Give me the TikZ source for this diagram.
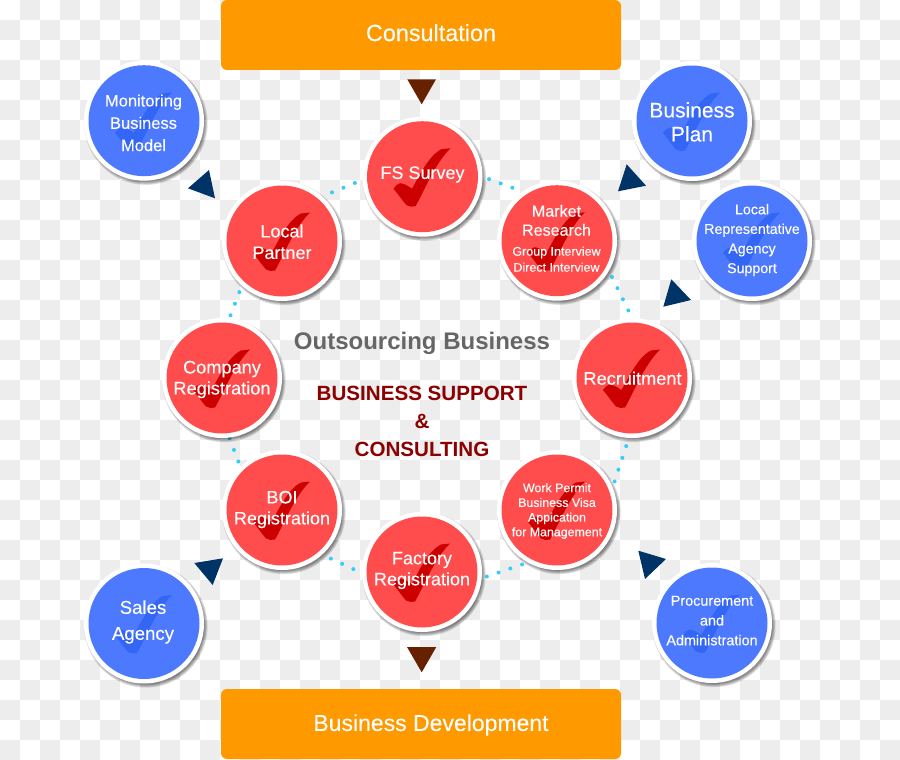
\documentclass[tikz,border=0pt]{standalone}
\usepackage{fontspec}
\setmainfont{Liberation Sans}[UprightFeatures={FakeBold=0.12}]
\pgfdeclarelayer{tiles}
\pgfdeclarelayer{links}
\pgfsetlayers{tiles,links,main}
\definecolor{tile}{HTML}{EDEDED}
\definecolor{redfill}{HTML}{FF4D4D}
\definecolor{redtick}{HTML}{CC0000}
\definecolor{bluefill}{HTML}{4D79FF}
\definecolor{bluetick}{HTML}{3366F5}
\definecolor{boxorange}{HTML}{FF9900}
\definecolor{navytri}{HTML}{003366}
\definecolor{browntri}{HTML}{662200}
\definecolor{dotblue}{HTML}{33CCFF}
\definecolor{headgrey}{HTML}{666666}
\definecolor{headred}{HTML}{8B0000}
\newcommand{\pxfont}[2]{\fontsize{#1}{#2}\selectfont}
\newcommand{\liftmark}{\vphantom{Ag}}
\tikzset{
  disc/.style={circle,fill=white,inner sep=0pt,outer sep=0pt,minimum size=120pt},
  caption/.style={text=white,align=center,inner sep=0pt,outer sep=0pt,shift={(0,2)},
    execute at begin node=\liftmark,execute at end node=\liftmark},
  headline/.style={align=center,inner sep=0pt,outer sep=0pt,shift={(0,2)}},
  bigbox/.style={rectangle,rounded corners=6pt,fill=boxorange,minimum width=400pt,
    minimum height=70pt,inner sep=0pt,outer sep=0pt},
  dotrun/.style={line width=4pt,line cap=round,dotblue,
    dash pattern=on 0pt off 12.4pt,dash phase={12.4pt-#1pt}},
  navyhead/.style={fill=navytri},
  brownhead/.style={fill=browntri}
}
% A round badge: soft shadow, white ring, tinted disc and a faint tick.
% #1 name, #2 x, #3 y, #4 disc colour, #5 tick colour
\newcommand{\badge}[5]{%
  \foreach \rr in {58.5,59.3,60.1,60.9,61.7}{%
    \fill[black,opacity=.11] ([shift={(2,2.5)}]#2,#3) circle[radius=\rr pt];}
  \node[disc] (#1) at (#2,#3) {};
  \fill[#4] (#1.center) circle[radius=55.5pt];
  \begin{scope}[shift={(#1.center)}]
    \fill[#5] (28,-28.5) -- (19,-27.5)
      .. controls (6,-21) and (-3,-1) .. (-10.5,12)
      .. controls (-15,9) and (-19,6.5) .. (-22.5,6.5)
      .. controls (-25,7) and (-27.5,9.5) .. (-29,12)
      .. controls (-24,18) and (-20,24) .. (-16,28.5)
      .. controls (-13,30) and (-10,30.5) .. (-7,29.5)
      .. controls (0,18) and (12,-13) .. (28,-28.5) -- cycle;
  \end{scope}}
\begin{document}
\begin{tikzpicture}[x=1pt,y=-1pt]
\useasboundingbox (0,0) rectangle (900,760);

% Checkered backdrop
\begin{pgfonlayer}{tiles}
  \fill[white] (0,0) rectangle (900,760);
  \foreach \yy in {0,40,...,720}{\foreach \xx in {20,60,...,880}{\fill[tile] (\xx,\yy) rectangle ++(20,20);}}
  \foreach \yy in {20,60,...,740}{\foreach \xx in {0,40,...,880}{\fill[tile] (\xx,\yy) rectangle ++(20,20);}}
\end{pgfonlayer}

% Top and bottom boxes
\node[bigbox] (consult) at (421,35) {};
\node[bigbox] (develop) at (421,724) {};
\node[headline,text=white,font=\pxfont{23.4}{28}] (consulttext) at (431,33) {\liftmark Consultation};
\node[headline,text=white,font=\pxfont{23}{28}] (developtext) at (431,723) {\liftmark Business Development};

% Ring of service badges
\badge{fs}{422.5}{176.7}{redfill}{redtick}
\badge{mr}{557}{240.7}{redfill}{redtick}
\badge{rec}{632}{378}{redfill}{redtick}
\badge{wp}{557}{510}{redfill}{redtick}
\badge{fr}{422}{572}{redfill}{redtick}
\badge{boi}{282}{510}{redfill}{redtick}
\badge{co}{222}{378}{redfill}{redtick}
\badge{lp}{282}{241}{redfill}{redtick}

% Outer badges
\badge{mon}{144}{120.7}{bluefill}{bluetick}
\badge{bp}{692}{121}{bluefill}{bluetick}
\badge{lr}{752}{241}{bluefill}{bluetick}
\badge{sa}{144}{623.5}{bluefill}{bluetick}
\badge{pa}{712}{623}{bluefill}{bluetick}

% Badge captions
\node[caption,font=\pxfont{18}{21}] (fst) at (422.5,172.5) {FS Survey};
\node[caption,font=\pxfont{16.1}{19}] (mrt) at (556.5,238) {Market\\Research\\[1pt]\pxfont{12.5}{16}Group Interview\\[-3pt]\pxfont{12.5}{16}Direct Interview};
\node[caption,font=\pxfont{18.2}{21}] (rect) at (632.5,378) {Recruitment};
\node[caption,font=\pxfont{12.4}{14.7}] (wpt) at (557,509) {Work Permit\\Business Visa\\Appication\\for Management};
\node[caption,font=\pxfont{18}{21}] (frt) at (422,568.5) {Factory\\Registration};
\node[caption,font=\pxfont{18}{21}] (boit) at (282,507.5) {BOI\\Registration};
\node[caption,font=\pxfont{18.2}{21}] (cot) at (222,377.5) {Company\\Registration};
\node[caption,font=\pxfont{18}{21.5}] (lpt) at (282,241.5) {Local\\Partner};
\node[caption,font=\pxfont{16.5}{22.3}] (mont) at (143.5,122.5) {Monitoring\\Business\\Model};
\node[caption,font=\pxfont{21}{24}] (bpt) at (692,122) {Business\\Plan};
\node[caption,font=\pxfont{14.2}{19.6}] (lrt) at (752,238) {Local\\Representative\\Agency\\Support};
\node[caption,font=\pxfont{18.6}{26}] (sat) at (143,620) {Sales\\Agency};
\node[caption,font=\pxfont{14.4}{19.8}] (pat) at (712,620) {Procurement\\and\\Administration};

% Centre headings
\node[headline,text=headgrey,font=\bfseries\pxfont{24}{28}] (outs) at (422,341) {\liftmark Outsourcing Business};
\node[headline,text=headred,font=\bfseries\pxfont{20.6}{24}] (supp) at (422,393) {\liftmark BUSINESS SUPPORT};
\node[headline,text=headred,font=\bfseries\pxfont{20.6}{24}] (amp) at (422,422) {\liftmark \&};
\node[headline,text=headred,font=\bfseries\pxfont{20.6}{24}] (cons) at (422,449) {\liftmark CONSULTING};

% Dotted links around the ring
\begin{pgfonlayer}{links}
  \draw[dotrun=7] (fs.0) -- (mr.125);
  \draw[dotrun=7] (mr.-30) -- (rec.90);
  \draw[dotrun=8.6] (rec.-93) -- (wp.22);
  \draw[dotrun=6.2] (wp.-119) -- (fr.-6);
  \draw[dotrun=9.6] (boi.-48) -- (fr.-179);
  \draw[dotrun=0.8] (co.-83) -- (boi.134);
  \draw[dotrun=7] (lp.-132) -- (co.83);
  \draw[dotrun=10.6] (lp.48) -- (fs.183);
\end{pgfonlayer}

% Triangular pointers
\fill[brownhead] (407.3,79.3) -- (436,79.3) -- (421.7,104.3) -- cycle;
\fill[brownhead] (407,647) -- (436.3,647) -- (421.7,672.3) -- cycle;
\fill[navyhead] (209,170) -- (188,188.3) -- (215,198.3) -- cycle;
\fill[navyhead] (626.7,164.3) -- (618,191.3) -- (646,185.7) -- cycle;
\fill[navyhead] (671.3,279.3) -- (663.3,306.7) -- (691,300) -- cycle;
\fill[navyhead] (638.3,550.7) -- (666,559) -- (645,579) -- cycle;
\fill[navyhead] (194.3,563) -- (223,558.3) -- (212.7,585) -- cycle;
\end{tikzpicture}
\end{document}
